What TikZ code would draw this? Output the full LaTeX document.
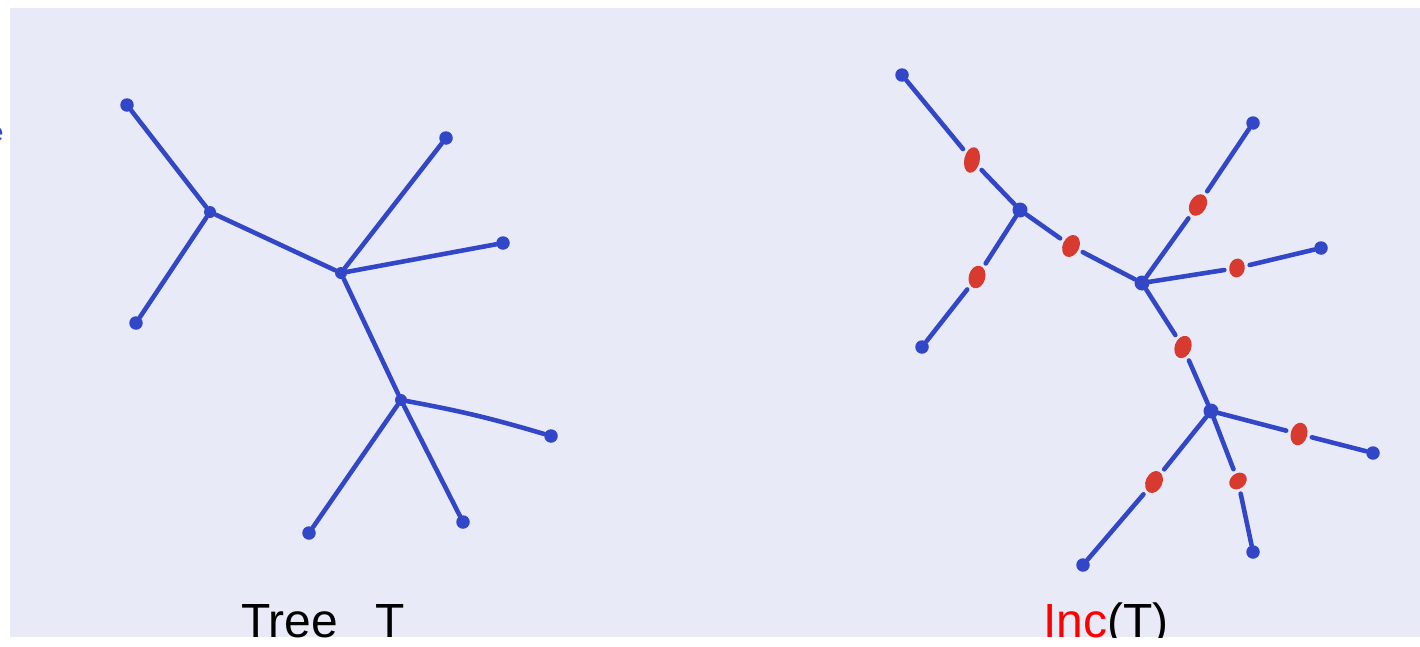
\documentclass[tikz,border=0pt]{standalone}
\usepackage{fontspec}
\setmainfont{Liberation Sans}
\usetikzlibrary{shapes.geometric}
\definecolor{paper}{RGB}{233,234,247}
\definecolor{inkblue}{RGB}{50,70,200}
\definecolor{inkred}{RGB}{216,58,48}
\begin{document}
\begin{tikzpicture}[x=0.02cm,y=-0.02cm,line join=round,line cap=round,
	ink/.style={draw=inkblue,line width=2.6pt},
	leaf/.style={circle,fill=inkblue,inner sep=0pt,minimum size=0.27cm},
	vert/.style={circle,fill=inkblue,inner sep=0pt,minimum size=0.3cm},
	reddot/.style={ellipse,fill=inkred,inner sep=0pt,minimum width=0.33cm,minimum height=0.46cm,outer sep=0.1cm},
	lbl/.style={inner sep=0pt,anchor=base west,font=\fontsize{27.3}{32}\selectfont}]
	\useasboundingbox (0,0) rectangle (1420,646);
	\fill[white] (0,0) rectangle (1420,646);
	\fill[paper] (10,8) rectangle (1420,637);
	\begin{scope}
		\clip (0,0) rectangle (1420,637);
		\node[lbl] (tlab) at (241,637) {Tree\hspace{0.77em}T};
		\node[lbl] (ilab) at (1043,637) {\textcolor{red}{Inc}(T)};
	\end{scope}
	\node[text=inkblue,anchor=base east,inner sep=0pt,font=\fontsize{15}{18}\selectfont] (cut) at (4,141) {e};
	%
	% tree T
	\node[leaf] (a1) at (127,105) {};
	\node[leaf] (a2) at (136,323) {};
	\node[leaf] (a3) at (446,138) {};
	\node[leaf] (a4) at (503,243) {};
	\node[leaf] (a5) at (551,436) {};
	\node[leaf] (a6) at (309,533) {};
	\node[leaf] (a7) at (463,522) {};
	\node[vert,minimum size=0.24cm] (u1) at (210,212) {};
	\node[vert,minimum size=0.24cm] (u2) at (341,273) {};
	\node[vert,minimum size=0.24cm] (u3) at (401,400) {};
	\draw[ink] (u1) -- (a1) (u1) -- (a2) (u1) -- (u2)
		(u2) -- (a3) (u2) -- (a4) (u2) -- (u3)
		(u3) to[bend left=3] (a5) (u3) -- (a6) (u3) -- (a7);
	%
	% Inc(T)
	\node[leaf] (b1) at (902,75) {};
	\node[leaf] (b2) at (922,347) {};
	\node[leaf] (b3) at (1253,123) {};
	\node[leaf] (b4) at (1321,248) {};
	\node[leaf] (b5) at (1373,453) {};
	\node[leaf] (b6) at (1253,552) {};
	\node[leaf] (b7) at (1083,565) {};
	\node[vert] (v1) at (1020,210) {};
	\node[vert] (v2) at (1142,283) {};
	\node[vert] (v3) at (1211,411) {};
	\node[reddot,minimum width=0.31cm,minimum height=0.52cm,rotate=-12] (r1) at (972,160) {};
	\node[reddot,rotate=-25] (r2) at (1071,246) {};
	\node[reddot,rotate=-15] (r3) at (977,277) {};
	\node[reddot,rotate=-30] (r4) at (1198,205) {};
	\node[reddot,minimum width=0.31cm,minimum height=0.38cm,rotate=-10] (r5) at (1237,268) {};
	\node[reddot,rotate=-20] (r6) at (1183,347) {};
	\node[reddot,rotate=-15] (r7) at (1299,434) {};
	\node[reddot,minimum width=0.3cm,minimum height=0.38cm,rotate=-50] (r8) at (1238,481) {};
	\node[reddot,rotate=-25] (r9) at (1154,482) {};
	\draw[ink] (b1) -- (r1) (r1) -- (v1) (v1) -- (r2) (r2) -- (v2)
		(v1) -- (r3) (r3) -- (b2)
		(v2) -- (r4) (r4) -- (b3) (v2) -- (r5) (r5) -- (b4)
		(v2) -- (r6) (r6) -- (v3)
		(v3) -- (r7) (r7) -- (b5) (v3) -- (r8) (r8) -- (b6)
		(v3) -- (r9) (r9) -- (b7);
\end{tikzpicture}
\end{document}
